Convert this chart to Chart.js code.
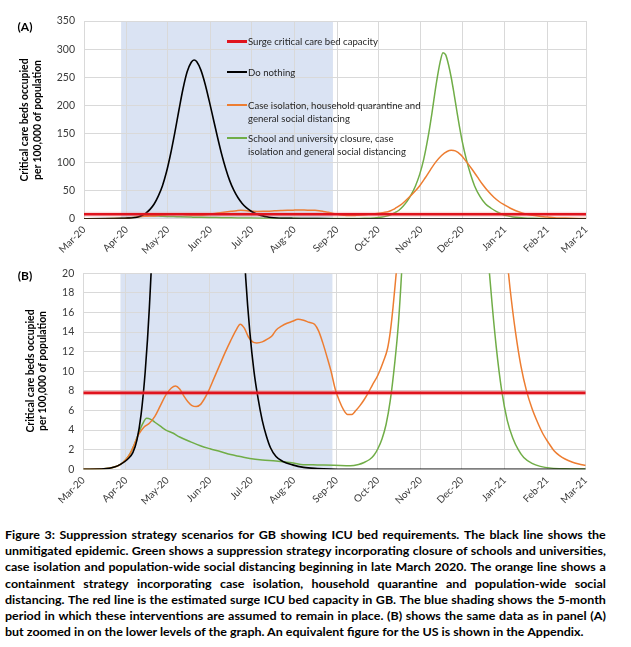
<!DOCTYPE html>
<html>
<head>
<meta charset="utf-8">
<script src="https://cdn.jsdelivr.net/npm/chart.js@4.4.1/dist/chart.umd.min.js"></script>
<style>
  body { margin: 0; background: #fff; width: 631px; height: 647px; position: relative; overflow: hidden; font-family: Lato, 'Liberation Sans', sans-serif; }
  canvas { position: absolute; left: 0; }
  #chartA { top: 0; }
  #chartB { top: 258px; }
  .txt { position: absolute; white-space: nowrap; }
</style>
</head>
<body>
<canvas id="chartA" width="600" height="262"></canvas>
<canvas id="chartB" width="600" height="255"></canvas>
<div id="labels"></div>
<script>
// x axis = days since 1 Mar 2020
const monthDays = [0, 31, 61, 92, 122, 153, 184, 214, 245, 275, 306, 337, 365];
const monthLabels = ['Mar-20', 'Apr-20', 'May-20', 'Jun-20', 'Jul-20', 'Aug-20', 'Sep-20', 'Oct-20', 'Nov-20', 'Dec-20', 'Jan-21', 'Feb-21', 'Mar-21'];

// 5-month intervention period (blue shading)
const shadeDays = [27, 181];

const capacityDays = [0, 365];
const capacityValues = [7.8, 7.8];

const doNothingDays = [0, 15, 22, 27, 32, 36, 39, 42, 45, 48, 51, 54, 57, 60, 63, 66, 69, 72, 75, 78, 80, 82, 85, 88, 91, 94, 97, 100, 103, 106, 109, 112, 115, 118, 121, 124, 127, 130, 133, 136, 140, 145, 152, 160, 170, 180, 190, 365];
const doNothingValues = [0, 0.05, 0.2, 0.5, 1.0, 1.7, 3.0, 5.6, 10, 16.5, 26, 40, 58, 83, 115, 152, 192, 230, 260, 277, 281, 278, 263, 239, 209, 177, 145, 115, 89, 67, 50, 37, 27, 19.5, 14, 10, 7.2, 5.0, 3.4, 2.2, 1.3, 0.8, 0.45, 0.2, 0.08, 0.02, 0, 0];

const caseIsolationDays = [0, 15, 22, 27, 31, 34, 37, 40, 44, 48, 52, 56, 60, 64, 67, 70, 73, 76, 79, 82, 85, 88, 91, 95, 99, 103, 107, 111, 114, 117, 120, 123, 126, 130, 134, 137, 140, 144, 148, 152, 156, 160, 164, 168, 171, 174, 177, 180, 183, 186, 189, 192, 195, 198, 201, 204, 207, 210, 214, 218, 221, 223, 225, 227, 230, 233, 236, 240, 244, 248, 252, 256, 260, 264, 267, 270, 274, 278, 282, 286, 290, 294, 298, 302, 306, 310, 314, 318, 322, 326, 330, 334, 338, 342, 346, 350, 355, 360, 365];
const caseIsolationValues = [0, 0.05, 0.2, 0.5, 1.0, 1.6, 2.5, 3.5, 4.3, 4.7, 5.4, 6.5, 7.6, 8.3, 8.5, 8.2, 7.5, 6.9, 6.5, 6.4, 6.6, 7.2, 8.0, 9.3, 10.6, 11.9, 13.1, 14.2, 14.8, 14.4, 13.5, 13.0, 12.9, 13.0, 13.3, 13.6, 14.2, 14.6, 14.9, 15.1, 15.3, 15.2, 15.0, 14.8, 14.1, 12.9, 11.5, 10.0, 8.2, 7.0, 6.1, 5.6, 5.6, 6.0, 6.5, 7.1, 7.8, 8.6, 9.6, 11.0, 12.3, 14.0, 16.5, 19.5, 24, 30, 37, 47, 58, 72, 87, 101, 112, 119, 121, 120, 113, 101, 88, 74, 60, 48, 38, 30, 24, 18.5, 14, 10.5, 8, 6.2, 4.8, 3.6, 2.7, 1.9, 1.4, 1.05, 0.75, 0.55, 0.4];

const schoolClosureDays = [0, 15, 22, 27, 31, 34, 37, 40, 43, 46, 49, 52, 56, 60, 65, 70, 78, 85, 92, 100, 107, 114, 121, 130, 140, 150, 158, 170, 182, 194, 200, 204, 208, 211, 214, 217, 220, 223, 226, 229, 232, 235, 238, 241, 244, 247, 250, 253, 256, 259, 261, 263, 265, 267, 269, 271, 273, 275, 278, 281, 284, 288, 292, 296, 300, 304, 308, 312, 316, 320, 326, 332, 340, 350, 365];
const schoolClosureValues = [0, 0.05, 0.2, 0.5, 1.0, 1.6, 2.5, 3.6, 4.6, 5.2, 5.1, 4.8, 4.4, 4.0, 3.7, 3.3, 2.8, 2.4, 2.1, 1.8, 1.5, 1.3, 1.1, 0.95, 0.85, 0.7, 0.5, 0.45, 0.42, 0.36, 0.5, 0.7, 1.0, 1.4, 2.1, 3.1, 4.6, 7.0, 10.5, 15, 22, 31, 43, 58, 78, 105, 142, 187, 237, 278, 294, 290, 273, 250, 222, 192, 163, 137, 105, 79, 58, 39, 26, 18.5, 12.5, 8.0, 5.0, 3.2, 2.0, 1.2, 0.6, 0.3, 0.12, 0.05, 0.02];

const legendLabels = [
    ['Surge critical care bed capacity'],
    ['Do nothing'],
    ['Case isolation, household quarantine and', 'general social distancing'],
    ['School and university closure, case', 'isolation and general social distancing']
];
const legendColors = ['#e0141e', '#000000', '#ed7d31', '#70ad47'];

const yTitle = ['Critical care beds occupied', 'per 100,000 of population'];

const captionLines = [
    'Figure 3: Suppression strategy scenarios for GB showing ICU bed requirements. The black line shows the',
    'unmitigated epidemic. Green shows a suppression strategy incorporating closure of schools and universities,',
    'case isolation and population-wide social distancing beginning in late March 2020. The orange line shows a',
    'containment strategy incorporating case isolation, household quarantine and population-wide social',
    'distancing. The red line is the estimated surge ICU bed capacity in GB.  The blue shading shows the 5-month',
    'period in which these interventions are assumed to remain in place. (B) shows the same data as in panel (A)',
    'but zoomed in on the lower levels of the graph. An equivalent figure for the US is shown in the Appendix.'
];

Chart.defaults.font.family = "Lato, 'Liberation Sans', sans-serif";
Chart.defaults.color = '#3a3a3a';

function pairs(xs, ys) {
    return xs.map((x, i) => ({ x: x, y: ys[i] }));
}

// blue box behind the grid
const shadePlugin = {
    id: 'shade',
    beforeDraw(chart) {
        const ctx = chart.ctx, area = chart.chartArea, xs = chart.scales.x;
        const x1 = xs.getPixelForValue(shadeDays[0]);
        const x2 = xs.getPixelForValue(shadeDays[1]);
        ctx.save();
        ctx.fillStyle = '#dae3f3';
        ctx.fillRect(x1, area.top, x2 - x1, area.bottom - area.top);
        ctx.restore();
    }
};

function makeChart(id, yMax, yStep, pad, yWidth, xHeight) {
    const ctx = document.getElementById(id).getContext('2d');
    return new Chart(ctx, {
        type: 'line',
        data: {
            datasets: [
                { label: legendLabels[0][0], data: pairs(capacityDays, capacityValues), borderColor: legendColors[0], borderWidth: 2.6 },
                { label: 'halo', data: pairs(capacityDays, capacityValues), borderColor: 'rgba(236,120,120,0.28)', borderWidth: 5 },
                { label: legendLabels[1][0], data: pairs(doNothingDays, doNothingValues), borderColor: legendColors[1], borderWidth: 1.6 },
                { label: legendLabels[2][0], data: pairs(caseIsolationDays, caseIsolationValues), borderColor: legendColors[2], borderWidth: 1.5 },
                { label: legendLabels[3][0], data: pairs(schoolClosureDays, schoolClosureValues), borderColor: legendColors[3], borderWidth: 1.5 }
            ]
        },
        options: {
            responsive: false,
            animation: false,
            elements: {
                point: { radius: 0 },
                line: { cubicInterpolationMode: 'monotone', fill: false }
            },
            layout: { padding: pad },
            plugins: { legend: { display: false }, tooltip: { enabled: false } },
            scales: {
                x: {
                    type: 'linear', min: 0, max: 365,
                    afterBuildTicks: axis => { axis.ticks = monthDays.map(v => ({ value: v })); },
                    afterFit: axis => { axis.height = xHeight; },
                    ticks: { autoSkip: false, minRotation: 45, maxRotation: 45, padding: 5, font: { size: 10 },
                        callback: (v, i) => monthLabels[i] },
                    grid: { color: '#d9d9d9', drawTicks: false },
                    border: { color: '#d9d9d9' }
                },
                y: {
                    min: 0, max: yMax,
                    afterFit: axis => { axis.width = yWidth; },
                    ticks: { stepSize: yStep, padding: 9, font: { size: 10.5 } },
                    grid: { color: '#d9d9d9', drawTicks: false },
                    border: { color: '#d9d9d9' }
                }
            }
        },
        plugins: [shadePlugin]
    });
}

makeChart('chartA', 350, 50, { top: 21, right: 14, left: 0, bottom: 0 }, 84, 43.3);
makeChart('chartB', 20, 2, { top: 13, right: 14.3, left: 0, bottom: 0 }, 83.3, 43.7);

//////////////////////////// text around the charts ////////////////////////////
const holder = document.getElementById('labels');
const meas = document.createElement('canvas').getContext('2d');
function textW(str, font) {
    meas.font = font;
    return meas.measureText(str).width;
}

function addText(str, font, x, y, scale, opts) {
    opts = opts || {};
    const d = document.createElement('div');
    d.className = 'txt';
    d.textContent = str;
    d.style.font = font;
    d.style.lineHeight = '14px';
    d.style.color = opts.color || '#000';
    if (opts.rotate) {
        d.style.left = x + 'px';
        d.style.top = y + 'px';
        d.style.transform = 'translate(-50%,-50%) rotate(-90deg) scaleX(' + scale + ')';
    } else if (opts.center) {
        d.style.left = x + 'px';
        d.style.top = y + 'px';
        d.style.transform = 'translate(-50%,-50%)';
    } else {
        d.style.left = x + 'px';
        d.style.top = (y - 7) + 'px';
        d.style.transformOrigin = 'left center';
        d.style.transform = 'scaleX(' + scale + ')';
    }
    holder.appendChild(d);
    return d;
}

// panel letters
addText('(A)', 'bold 12px Lato', 25, 27, 1, { center: true });
addText('(B)', 'bold 12px Lato', 25, 276, 1, { center: true });

// y titles
const titleFont = 'bold 11px Lato';
const titleScale = 123 / textW(yTitle[0], titleFont);
addText(yTitle[0], titleFont, 23.5, 120, titleScale, { rotate: true });
addText(yTitle[1], titleFont, 37, 120, titleScale, { rotate: true });
addText(yTitle[0], titleFont, 29.5, 371, titleScale, { rotate: true });
addText(yTitle[1], titleFont, 42, 371, titleScale, { rotate: true });

// legend inside panel A
const legendY = [41, 72, 105, 137.5];
const legendFont = '10px Lato';
const legendScale = 172.6 / textW(legendLabels[2][0], legendFont);
legendLabels.forEach((lines, k) => {
    const ln = document.createElement('div');
    const h = k === 0 ? 3 : 2;
    ln.style.cssText = 'position:absolute;left:226.5px;width:20px;height:' + h + 'px;top:' + (legendY[k] - h / 2) + 'px;background:' + legendColors[k];
    holder.appendChild(ln);
    lines.forEach((t, j) => addText(t, legendFont, 247.5, legendY[k] + j * 13, legendScale, { color: '#262626' }));
});

// caption, justified line by line
const capFont = 'bold 11.5px Lato';
const capScale = 580 / textW(captionLines[6], capFont);
captionLines.forEach((line, i) => {
    const d = document.createElement('div');
    d.className = 'txt';
    d.style.font = capFont;
    d.style.lineHeight = '14px';
    d.style.left = '5px';
    d.style.top = (535 + i * 16.2 - 7) + 'px';
    d.style.transformOrigin = 'left center';
    d.style.transform = 'scaleX(' + capScale + ')';
    if (i < captionLines.length - 1) {
        d.style.width = (601 / capScale) + 'px';
        d.style.display = 'flex';
        d.style.justifyContent = 'space-between';
        line.split(/\s+/).forEach(w => {
            const s = document.createElement('span');
            s.textContent = w;
            d.appendChild(s);
        });
    } else {
        d.textContent = line;
    }
    holder.appendChild(d);
});
</script>
</body>
</html>
